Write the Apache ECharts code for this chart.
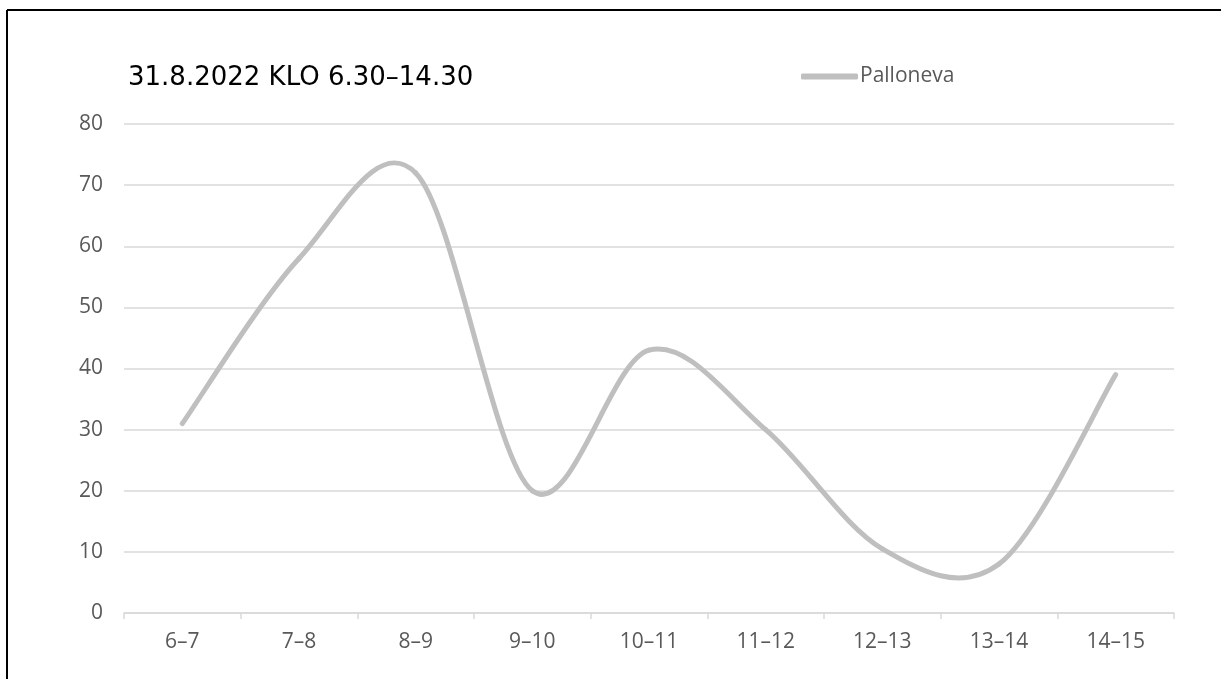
<!DOCTYPE html>
<html>
<head>
<meta charset="utf-8">
<style>
  html, body { margin: 0; padding: 0; background: #fff; }
  #chart { width: 1221px; height: 679px; }
</style>
<script src="https://cdn.jsdelivr.net/npm/echarts@6/dist/echarts.min.js"></script>
</head>
<body>
<div id="chart"></div>
<script>
// Hourly counts, 31.8.2022
const categories = ['6–7', '7–8', '8–9', '9–10', '10–11', '11–12', '12–13', '13–14', '14–15'];
const palloneva = [31, 58, 72, 20, 43, 30, 10.5, 8, 39];
const yTicks = { min: 0, max: 80, interval: 10 };
const titleText = '31.8.2022 KLO 6.30–14.30';
const seriesName = 'Palloneva';

const LINE_COLOR = '#bfbfbf';
const LABEL_FONT = '"Open Sans", sans-serif';

// Smoothed curve segment between point i and i+1 (cubic Bezier with
// Catmull-Rom style control points, tension 1/6), in pixel space.
function renderSegment(params, api) {
  const i = params.dataIndex;
  const n = palloneva.length;
  if (i >= n - 1) return null;
  const pt = k => {
    const j = Math.max(0, Math.min(n - 1, k));
    return api.coord([j, palloneva[j]]);
  };
  const p0 = pt(i - 1), p1 = pt(i), p2 = pt(i + 1), p3 = pt(i + 2);
  return {
    type: 'bezierCurve',
    shape: {
      x1: p1[0], y1: p1[1],
      cpx1: p1[0] + (p2[0] - p0[0]) / 6, cpy1: p1[1] + (p2[1] - p0[1]) / 6,
      cpx2: p2[0] - (p3[0] - p1[0]) / 6, cpy2: p2[1] - (p3[1] - p1[1]) / 6,
      x2: p2[0], y2: p2[1]
    },
    style: { stroke: LINE_COLOR, lineWidth: 5, fill: null, lineCap: 'round', lineJoin: 'round' }
  };
}

const chart = echarts.init(document.getElementById('chart'), null, { renderer: 'canvas' });

chart.setOption({
  backgroundColor: '#ffffff',
  animation: false,
  title: {
    text: titleText,
    left: 123,
    top: 60,
    textStyle: {
      fontFamily: '"DejaVu Sans", sans-serif',
      fontSize: 26,
      fontWeight: 'normal',
      color: '#000000'
    }
  },
  legend: {
    data: [{ name: seriesName, icon: 'roundRect', itemStyle: { color: LINE_COLOR } }],
    left: 796,
    top: 61,
    itemWidth: 57,
    itemHeight: 6,
    itemGap: 0,
    textStyle: {
      fontFamily: LABEL_FONT,
      fontSize: 21,
      color: '#595959',
      padding: [0, 0, 0, -3]
    }
  },
  grid: {
    left: 124,
    right: 47,
    top: 124,
    bottom: 66,
    containLabel: false
  },
  xAxis: {
    type: 'category',
    data: categories,
    boundaryGap: true,
    axisLine: { lineStyle: { color: '#d9d9d9', width: 1.5 } },
    axisTick: { show: true, length: 6, lineStyle: { color: '#d9d9d9', width: 1.5 } },
    axisLabel: {
      margin: 19,
      fontFamily: LABEL_FONT,
      fontSize: 21,
      color: '#595959'
    },
    splitLine: { show: false }
  },
  yAxis: {
    type: 'value',
    min: yTicks.min,
    max: yTicks.max,
    interval: yTicks.interval,
    axisLine: { show: false },
    axisTick: { show: false },
    axisLabel: {
      margin: 21,
      fontFamily: LABEL_FONT,
      fontSize: 21,
      color: '#595959'
    },
    splitLine: { lineStyle: { color: '#d9d9d9', width: 1.5 } }
  },
  series: [{
    name: seriesName,
    type: 'custom',
    renderItem: renderSegment,
    data: palloneva.map((v, i) => [i, v]),
    encode: { x: 0, y: 1 },
    itemStyle: { color: LINE_COLOR },
    clip: false
  }],
  graphic: [
    // frame: top and left edges
    { type: 'line', shape: { x1: 7, y1: 10, x2: 1221, y2: 10 }, style: { stroke: '#000', lineWidth: 2 } },
    { type: 'line', shape: { x1: 7, y1: 10, x2: 7, y2: 679 }, style: { stroke: '#000', lineWidth: 2 } }
  ]
});
</script>
</body>
</html>
